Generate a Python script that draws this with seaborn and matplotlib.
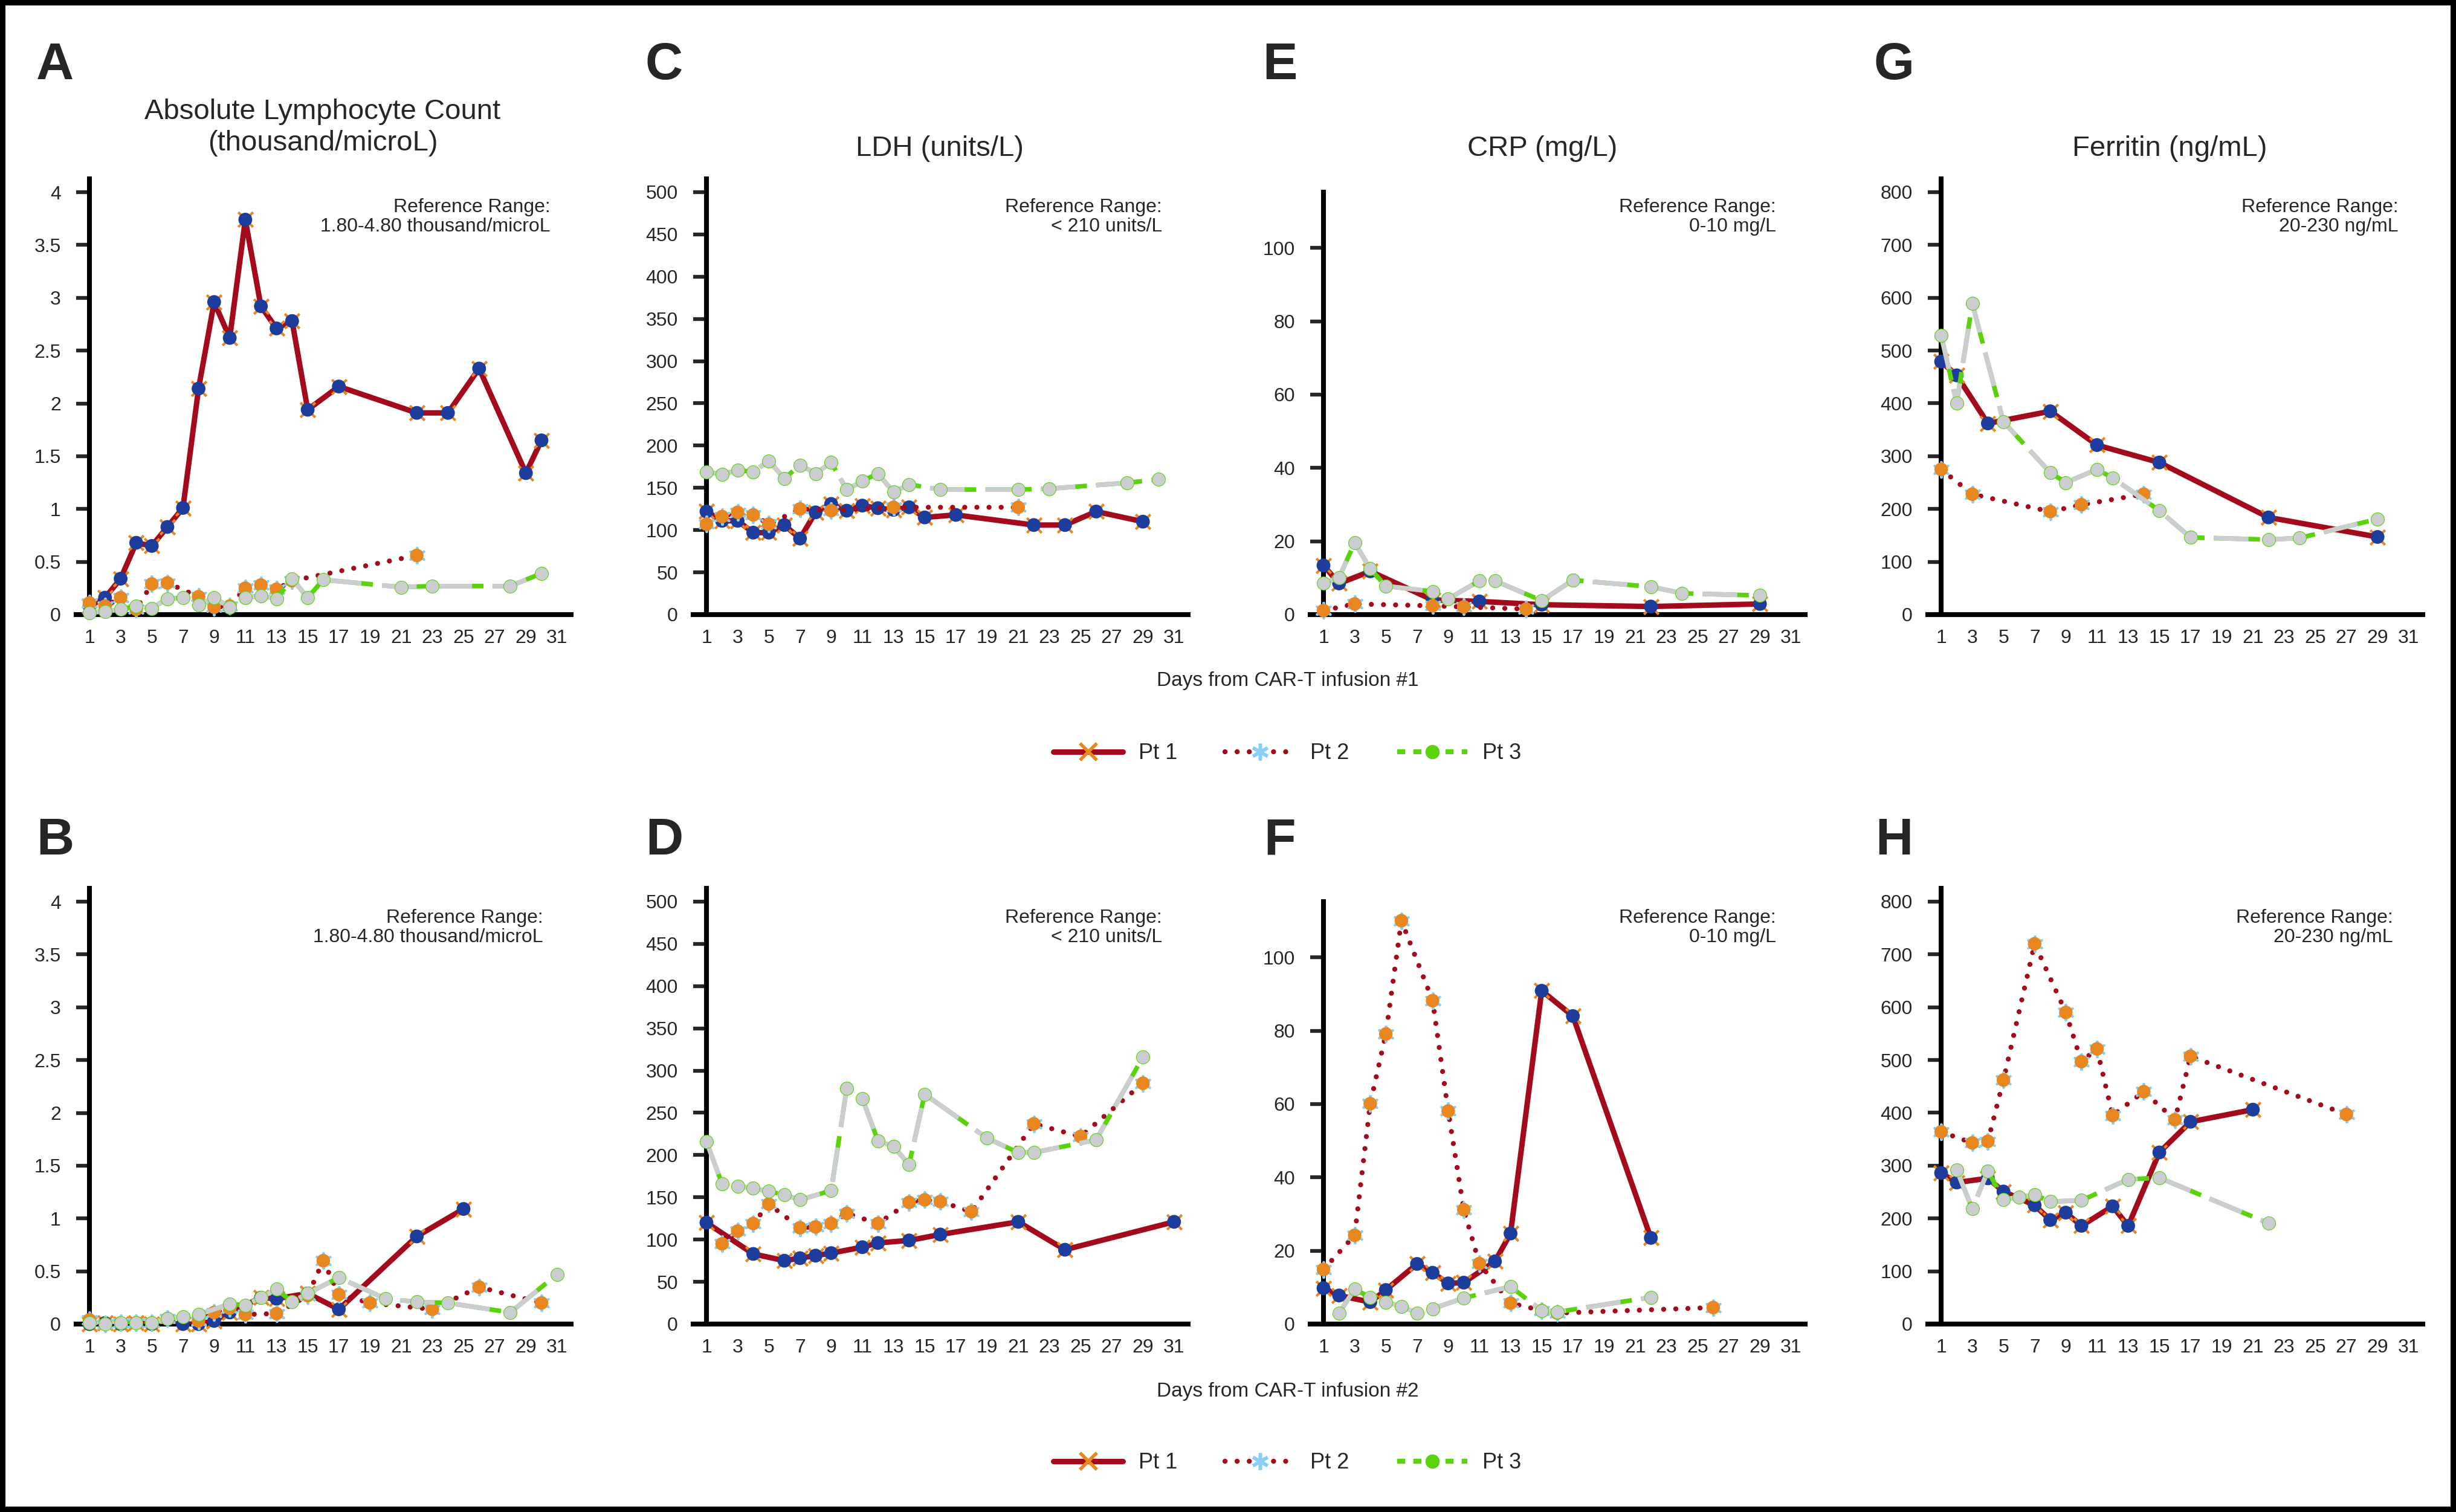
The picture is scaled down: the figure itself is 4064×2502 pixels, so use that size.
import matplotlib
matplotlib.use("Agg")
import matplotlib.pyplot as plt
from matplotlib.lines import Line2D
from matplotlib.patches import Rectangle
import seaborn as sns

# ---- data (day, value) ----
# Panel A: absolute lymphocyte count, infusion #1
a_pt1_days = [1, 2, 3, 4, 5, 6, 7, 8, 9, 10, 11, 12, 13, 14, 15, 17, 22, 24, 26, 29, 30]
a_pt1 = [0.08, 0.16, 0.34, 0.68, 0.65, 0.83, 1.01, 2.14, 2.96, 2.62, 3.74, 2.92, 2.71, 2.78, 1.94, 2.16, 1.91, 1.91, 2.33, 1.34, 1.65]
a_pt2_days = [1, 2, 3, 4, 5, 6, 8, 9, 10, 11, 12, 13, 14, 22]
a_pt2 = [0.11, 0.08, 0.16, 0.05, 0.29, 0.30, 0.17, 0.07, 0.08, 0.25, 0.28, 0.24, 0.32, 0.56]
a_pt3_days = [1, 2, 3, 4, 5, 6, 7, 8, 9, 10, 11, 12, 13, 14, 15, 16, 21, 23, 28, 30]
a_pt3 = [0.02, 0.03, 0.05, 0.08, 0.06, 0.15, 0.16, 0.09, 0.16, 0.07, 0.16, 0.18, 0.15, 0.34, 0.16, 0.33, 0.26, 0.27, 0.27, 0.39]

# Panel C: LDH, infusion #1
c_pt1_days = [1, 2, 3, 4, 5, 6, 7, 8, 9, 10, 11, 12, 13, 14, 15, 17, 22, 24, 26, 29]
c_pt1 = [122, 111, 111, 97, 97, 106, 90, 121, 131, 123, 129, 126, 124, 127, 115, 118, 106, 106, 122, 110]
c_pt2_days = [1, 2, 3, 4, 5, 7, 9, 13, 21]
c_pt2 = [107, 116, 121, 118, 107, 125, 123, 127, 127]
c_pt3_days = [1, 2, 3, 4, 5, 6, 7, 8, 9, 10, 11, 12, 13, 14, 16, 21, 23, 28, 30]
c_pt3 = [169, 166, 171, 169, 182, 161, 177, 167, 180, 148, 158, 167, 145, 154, 148, 148, 149, 156, 160]

# Panel E: CRP, infusion #1
e_pt1_days = [1, 2, 4, 8, 11, 15, 22, 29]
e_pt1 = [13.4, 8.5, 11.8, 4.0, 3.6, 2.7, 2.2, 2.9]
e_pt2_days = [1, 3, 8, 10, 14]
e_pt2 = [1.1, 2.9, 2.4, 2.1, 1.5]
e_pt3_days = [1, 2, 3, 4, 5, 8, 9, 11, 12, 15, 17, 22, 24, 29]
e_pt3 = [8.5, 10.1, 19.6, 12.5, 7.8, 6.3, 4.3, 9.2, 9.2, 3.8, 9.4, 7.6, 5.8, 5.2]

# Panel G: ferritin, infusion #1
g_pt1_days = [1, 2, 4, 8, 11, 15, 22, 29]
g_pt1 = [479, 453, 362, 385, 321, 288, 184, 147]
g_pt2_days = [1, 3, 8, 10, 14]
g_pt2 = [275, 228, 195, 208, 228]
g_pt3_days = [1, 2, 3, 5, 8, 9, 11, 12, 15, 17, 22, 24, 29]
g_pt3 = [529, 400, 589, 365, 269, 250, 275, 259, 197, 146, 142, 145, 181]

# Panel B: absolute lymphocyte count, infusion #2
b_pt1_days = [1, 2, 3, 4, 5, 7, 8, 9, 10, 12, 13, 15, 17, 22, 25]
b_pt1 = [0.00, 0.01, 0.00, 0.01, 0.00, 0.00, 0.00, 0.03, 0.11, 0.25, 0.24, 0.29, 0.14, 0.83, 1.09]
b_pt2_days = [1, 2, 3, 4, 5, 6, 8, 9, 10, 11, 13, 15, 16, 17, 19, 23, 26, 30]
b_pt2 = [0.04, 0.00, 0.01, 0.01, 0.01, 0.05, 0.03, 0.11, 0.15, 0.09, 0.10, 0.27, 0.60, 0.28, 0.20, 0.14, 0.35, 0.20]
b_pt3_days = [1, 2, 3, 4, 5, 6, 7, 8, 10, 11, 12, 13, 14, 15, 17, 20, 22, 24, 28, 31]
b_pt3 = [0.01, 0.00, 0.01, 0.01, 0.01, 0.05, 0.07, 0.09, 0.19, 0.18, 0.25, 0.33, 0.21, 0.29, 0.44, 0.24, 0.21, 0.20, 0.11, 0.47]

# Panel D: LDH, infusion #2
d_pt1_days = [1, 4, 6, 7, 8, 9, 11, 12, 14, 16, 21, 24, 31]
d_pt1 = [120, 83, 75, 78, 81, 84, 91, 96, 99, 106, 121, 88, 121]
d_pt2_days = [2, 3, 4, 5, 7, 8, 9, 10, 12, 14, 15, 16, 18, 22, 25, 29]
d_pt2 = [95, 110, 119, 142, 114, 115, 119, 131, 119, 144, 147, 145, 133, 237, 222, 285]
d_pt3_days = [1, 2, 3, 4, 5, 6, 7, 9, 10, 11, 12, 13, 14, 15, 19, 21, 22, 26, 29]
d_pt3 = [216, 166, 163, 161, 157, 153, 147, 158, 279, 267, 217, 210, 189, 272, 220, 203, 203, 218, 316]

# Panel F: CRP, infusion #2
f_pt1_days = [1, 2, 4, 5, 7, 8, 9, 10, 12, 13, 15, 17, 22]
f_pt1 = [9.8, 7.8, 6.0, 9.3, 16.4, 14.0, 11.1, 11.3, 17.1, 24.7, 90.9, 84.0, 23.5]
f_pt2_days = [1, 3, 4, 5, 6, 8, 9, 10, 11, 13, 15, 16, 26]
f_pt2 = [14.9, 24.2, 60.1, 79.1, 110, 88.2, 58.1, 31.2, 16.5, 5.7, 3.7, 3.0, 4.5]
f_pt3_days = [2, 3, 4, 5, 6, 7, 8, 10, 13, 15, 16, 22]
f_pt3 = [3.0, 9.5, 7.3, 6.0, 4.8, 3.0, 4.2, 7.1, 10.2, 3.7, 3.3, 7.3]

# Panel H: ferritin, infusion #2
h_pt1_days = [1, 2, 4, 5, 7, 8, 9, 10, 12, 13, 15, 17, 21]
h_pt1 = [286, 268, 276, 251, 225, 197, 211, 186, 223, 186, 325, 383, 406]
h_pt2_days = [1, 3, 4, 5, 7, 9, 10, 11, 12, 14, 16, 17, 27]
h_pt2 = [364, 343, 346, 462, 720, 590, 497, 521, 395, 440, 387, 507, 397]
h_pt3_days = [2, 3, 4, 5, 6, 7, 8, 10, 13, 15, 22]
h_pt3 = [292, 218, 290, 236, 240, 245, 232, 234, 274, 277, 191]

x_ticks = list(range(1, 32, 2))
alc_ticks = [0, 0.5, 1, 1.5, 2, 2.5, 3, 3.5, 4]
alc_labels = ["0", "0.5", "1", "1.5", "2", "2.5", "3", "3.5", "4"]
ldh_ticks = list(range(0, 501, 50))
crp_ticks = list(range(0, 101, 20))
fer_ticks = list(range(0, 801, 100))

titles = ["Absolute Lymphocyte Count\n(thousand/microL)", "LDH (units/L)", "CRP (mg/L)", "Ferritin (ng/mL)"]
ref_texts = ["Reference Range:\n1.80-4.80 thousand/microL", "Reference Range:\n< 210 units/L",
             "Reference Range:\n0-10 mg/L", "Reference Range:\n20-230 ng/mL"]
letters_top = ["A", "C", "E", "G"]
letters_bottom = ["B", "D", "F", "H"]
pt_labels = ["Pt 1", "Pt 2", "Pt 3"]

RED = "#a30b1d"
BLUE = "#1c3d9c"
ORANGE = "#e8861f"
LIGHTBLUE = "#86cff5"
GREEN = "#5ad30c"
GRAY = "#cbcdd0"

W, H = 4064, 2502
XMIN, XMAX = 0.147, 31.9

sns.set_style("white")
plt.rcParams["font.family"] = ["Liberation Sans", "DejaVu Sans"]


def rect(left, top, width, height):
    return [left / W, 1 - (top + height) / H, width / W, height / H]


def draw_panel(ax, s1, s2, s3, ymax, yticks, ylabels):
    # Pt 1: solid red, blue dots over orange x
    sns.lineplot(x=s1[0], y=s1[1], ax=ax, color=RED, linewidth=6.5, sort=False, estimator=None, zorder=3)
    sns.scatterplot(x=s1[0], y=s1[1], ax=ax, marker="x", s=310, color=ORANGE, linewidth=3, zorder=4, clip_on=False)
    sns.scatterplot(x=s1[0], y=s1[1], ax=ax, marker="o", s=270, color=BLUE, edgecolor="none", zorder=5, clip_on=False)
    # Pt 2: dotted red, orange dots over light blue asterisk
    sns.lineplot(x=s2[0], y=s2[1], ax=ax, color=RED, linewidth=6, sort=False, estimator=None, zorder=6)
    ln = ax.lines[-1]
    ln.set_linestyle((0, (0.01, 2.4)))
    ln.set_dash_capstyle("round")
    sns.scatterplot(x=s2[0], y=s2[1], ax=ax, marker=(6, 2, 0), s=330, color=LIGHTBLUE, linewidth=3, zorder=7, clip_on=False)
    sns.scatterplot(x=s2[0], y=s2[1], ax=ax, marker="o", s=260, color=ORANGE, edgecolor="none", zorder=8, clip_on=False)
    # Pt 3: green dashes with grey overlay, grey dots with green rim
    sns.lineplot(x=s3[0], y=s3[1], ax=ax, color=GREEN, linewidth=5.5, sort=False, estimator=None, zorder=9)
    ax.lines[-1].set_linestyle((0, (10, 2)))
    sns.lineplot(x=s3[0], y=s3[1], ax=ax, color=GRAY, linewidth=5.5, sort=False, estimator=None, zorder=10)
    ax.lines[-1].set_linestyle((0, (7.5, 4.5)))
    sns.scatterplot(x=s3[0], y=s3[1], ax=ax, marker="o", s=250, color=GRAY, edgecolor=GREEN, linewidth=0.8, zorder=11, clip_on=False)

    ax.set_xlim(XMIN, XMAX)
    ax.set_ylim(0, ymax)
    ax.set_xticks(x_ticks)
    ax.set_xticklabels([str(t) for t in x_ticks])
    ax.set_yticks(yticks)
    ax.set_yticklabels(ylabels)
    ax.set_xlabel("")
    ax.set_ylabel("")
    ax.spines["left"].set_position(("data", 1))
    ax.spines["top"].set_visible(False)
    ax.spines["right"].set_visible(False)
    for s in ["left", "bottom"]:
        ax.spines[s].set_linewidth(5.8)
        ax.spines[s].set_color("black")
        ax.spines[s].set_zorder(2)
    ax.tick_params(axis="x", length=0, pad=17, labelsize=23)
    ax.tick_params(axis="y", length=16, width=4.5, pad=18, labelsize=23, direction="out", left=True)
    ax.set_facecolor("white")


fig = plt.figure(figsize=(W / 100, H / 100), dpi=100)
fig.patch.set_facecolor("white")

col_left = [126, 1147, 2168, 3190]
ax_w = 819

top_series = [
    (a_pt1_days, a_pt1), (a_pt2_days, a_pt2), (a_pt3_days, a_pt3),
    (c_pt1_days, c_pt1), (c_pt2_days, c_pt2), (c_pt3_days, c_pt3),
    (e_pt1_days, e_pt1), (e_pt2_days, e_pt2), (e_pt3_days, e_pt3),
    (g_pt1_days, g_pt1), (g_pt2_days, g_pt2), (g_pt3_days, g_pt3),
]
bottom_series = [
    (b_pt1_days, b_pt1), (b_pt2_days, b_pt2), (b_pt3_days, b_pt3),
    (d_pt1_days, d_pt1), (d_pt2_days, d_pt2), (d_pt3_days, d_pt3),
    (f_pt1_days, f_pt1), (f_pt2_days, f_pt2), (f_pt3_days, f_pt3),
    (h_pt1_days, h_pt1), (h_pt2_days, h_pt2), (h_pt3_days, h_pt3),
]
ymaxes = [4.126, 515.7, 115.2, 825]
yticks_all = [alc_ticks, ldh_ticks, crp_ticks, fer_ticks]
ylabels_all = [alc_labels, [str(t) for t in ldh_ticks], [str(t) for t in crp_ticks], [str(t) for t in fer_ticks]]

for row, (series, base) in enumerate([(top_series, 1017), (bottom_series, 2191)]):
    for col in range(4):
        h = 699 if col == 2 else 721
        ax = fig.add_axes(rect(col_left[col], base - h, ax_w, h))
        s1, s2, s3 = series[col * 3:col * 3 + 3]
        draw_panel(ax, s1, s2, s3, ymaxes[col], yticks_all[col], ylabels_all[col])

# panel letters
letter_x = [91, 1099, 2118, 3134]
for i in range(4):
    fig.text(letter_x[i] / W, 1 - 109 / H, letters_top[i], fontsize=62, fontweight="bold", ha="center", va="center")
    fig.text(letter_x[i] / W, 1 - 1392 / H, letters_bottom[i], fontsize=62, fontweight="bold", ha="center", va="center")

# titles
title_x = [534, 1555, 2552, 3590]
title_y = [211, 246, 246, 246]
for i in range(4):
    fig.text(title_x[i] / W, 1 - title_y[i] / H, titles[i], fontsize=34, ha="center", va="center", linespacing=1.25)

# reference range notes
ref_x_top = [911, 1923, 2939, 3969]
ref_x_bottom = [899, 1923, 2939, 3960]
for i in range(4):
    fig.text(ref_x_top[i] / W, 1 - 359 / H, ref_texts[i], fontsize=23, ha="right", va="center", multialignment="right", linespacing=1.1)
    fig.text(ref_x_bottom[i] / W, 1 - 1535 / H, ref_texts[i], fontsize=23, ha="right", va="center", multialignment="right", linespacing=1.1)

# x axis captions
fig.text(2131 / W, 1 - 1127 / H, "Days from CAR-T infusion #1", fontsize=24, ha="center", va="center")
fig.text(2131 / W, 1 - 2302 / H, "Days from CAR-T infusion #2", fontsize=24, ha="center", va="center")

# legends
for ly in [1247, 2421]:
    h1 = Line2D([], [], color=RED, lw=6.5, marker="x", markersize=20, markeredgecolor=ORANGE, markeredgewidth=4)
    h2 = Line2D([], [], color=RED, lw=6, linestyle=(0, (0.01, 2.4)), dash_capstyle="round", marker=(6, 2, 0),
                markersize=20, markeredgecolor=LIGHTBLUE, markeredgewidth=4)
    h3 = Line2D([], [], color=GREEN, lw=6, linestyle=(0, (1.6, 1.6)), marker="o", markersize=16,
                markerfacecolor=GREEN, markeredgecolor=GREEN)
    fig.legend([h1, h2, h3], pt_labels, loc="center", bbox_to_anchor=(2130 / W, 1 - ly / H), ncol=3,
               frameon=False, fontsize=26, handlelength=3.2, handletextpad=0.7, columnspacing=2.2, numpoints=1)

fig.patches.append(Rectangle((0, 0), 1, 1, transform=fig.transFigure, fill=False, edgecolor="black", linewidth=13, zorder=20))

fig.savefig("out.png", dpi=100)
plt.close(fig)
